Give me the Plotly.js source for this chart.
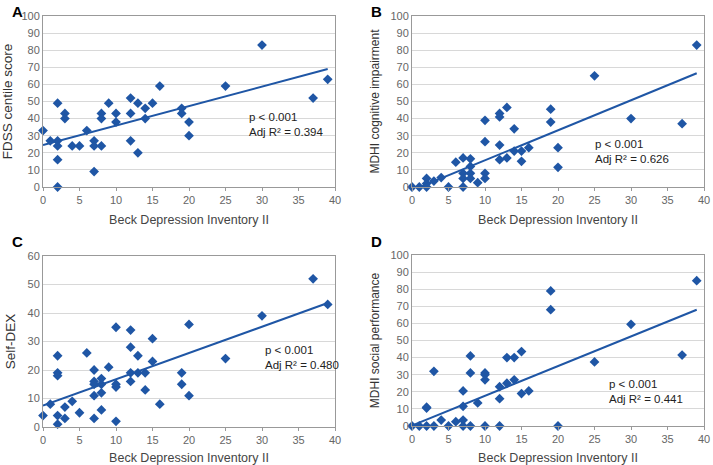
<!DOCTYPE html>
<html><head><meta charset="utf-8">
<script src="https://cdn.plot.ly/plotly-3.0.1.min.js"></script>
<style>html,body{margin:0;padding:0;background:#fff}#chart{width:713px;height:465px}</style>
</head><body><div id="chart"></div>
<script>
// Panel A: FDSS centile score
const aX = [0,1,2,2,2,2,2,3,3,4,5,6,7,7,7,8,8,8,9,10,10,12,12,12,13,13,14,14,15,16,19,19,20,20,25,30,37,39];
const aY = [33,27,49,27,24,16,0,43,40,24,24,33,27,24,9,43,40,24,49,43,38,52,43,27,49,20,46,40,49,59,46,43,38,30,59,83,52,63];
// Panel B: MDHI cognitive impairment
const bX = [0,1,2,2,2,3,4,5,6,7,7,7,7,8,8,8,8,9,10,10,10,10,12,12,12,12,13,13,14,14,15,15,16,19,19,20,20,25,30,37,39];
const bY = [0,0,5,2,0,3.5,5.5,0,14.5,17,8,5,0,16.5,12,8,5,2.5,39,26.5,8,5,43,41,24.5,16,46.5,17,34,21,21,15,23,45.5,38,23,11.5,65,40,37,83];
// Panel C: Self-DEX
const cX = [0,1,2,2,2,2,2,3,3,4,5,6,7,7,7,7,7,8,8,8,8,9,10,10,10,10,12,12,12,12,13,13,14,14,15,15,16,19,19,20,20,25,30,37,39];
const cY = [4,8,25,19,18,4,1,7,3,9,5,26,20,16,15,11,3,17,15,12,6,21,35,15,14,2,34,28,19,16,25,19,19,13,31,23,8,19,15,36,11,24,39,52,43];
// Panel D: MDHI social performance
const dX = [0,1,2,2,2,3,3,4,5,6,7,7,7,7,8,8,8,9,10,10,10,10,12,12,12,13,13,14,14,15,15,16,19,19,20,25,30,37,39];
const dY = [0,0,11,10.5,0,32,0,3.5,0,2.5,20.5,11.5,3.5,0,41,31,0,13.5,31,30,27,0,23,16,0,40,25,40,27,43.5,19,20.5,79,68,0,37.5,59.5,41.5,85];
// Trend lines (endpoints of fitted lines)
const trendX = [0, 39];
const aTrend = [24.5, 69];
const bTrend = [-1.9, 66.5];
const cTrend = [7.5, 43.5];
const dTrend = [0.3, 68];
const statsText = ["p < 0.001<br>Adj R² = 0.394","p < 0.001<br>Adj R² = 0.626","p < 0.001<br>Adj R² = 0.480","p < 0.001<br>Adj R² = 0.441"];
const yTitles = ["FDSS centile score","MDHI cognitive impairment","Self-DEX","MDHI social performance"];
const panelLetters = ["A","B","C","D"];
const xTitle = "Beck Depression Inventory II";

const blue = "#1f56a5";
const sets = [[aX,aY,aTrend],[bX,bY,bTrend],[cX,cY,cTrend],[dX,dY,dTrend]];
const data = [];
sets.forEach((s,i)=>{
  const sfx = i===0 ? "" : String(i+1);
  data.push({x:s[0], y:s[1], type:"scatter", mode:"markers", xaxis:"x"+sfx, yaxis:"y"+sfx,
    marker:{symbol:"diamond", size:7.5, color:blue}, cliponaxis:false, hoverinfo:"none"});
  data.push({x:trendX, y:s[2], type:"scatter", mode:"lines", xaxis:"x"+sfx, yaxis:"y"+sfx,
    line:{color:blue, width:2}, hoverinfo:"none"});
});

const font = "Liberation Sans, Arial, sans-serif";
const xd = [[43/713, 335/713],[412/713, 704/713],[43/713, 335/713],[412/713, 704/713]];
const yd = [[1-187/465, 1-16/465],[1-187/465, 1-16/465],[1-427/465, 1-256/465],[1-426/465, 1-255/465]];
const yr = [[0,100],[0,100],[0,60],[0,100]];
const yTitleSize = [13.5, 12, 13.5, 12];
const annX = [28, 24.8, 30.1, 26.7];
const annY = [36.5, 20.5, 24.4, 19.9];
const layout = {width:713, height:465, margin:{l:0,r:0,t:0,b:0}, showlegend:false,
  paper_bgcolor:"#fff", plot_bgcolor:"#fff", font:{family:font, color:"#555"}, annotations:[]};
for(let i=0;i<4;i++){
  const sfx = i===0 ? "" : String(i+1);
  layout["xaxis"+sfx] = {domain:xd[i], range:[0,40], anchor:"y"+sfx, dtick:5, tick0:0,
    showgrid:false, zeroline:false, showline:true, linecolor:"#999", linewidth:1, mirror:true,
    ticks:"outside", ticklen:3, tickcolor:"#999", tickfont:{size:11, color:"#666"},
    title:{text:xTitle, font:{size:12.5, color:"#444"}, standoff:10}};
  layout["yaxis"+sfx] = {domain:yd[i], range:yr[i], anchor:"x"+sfx, dtick:10,
    showgrid:true, gridcolor:"#d8d8d8", gridwidth:1, zeroline:false, showline:true, linecolor:"#999",
    linewidth:1, mirror:true, ticks:"", tickfont:{size:11, color:"#666"},
    title:{text:yTitles[i], font:{size:yTitleSize[i], color:"#333"}, standoff:8}};
  layout.annotations.push({xref:"x"+sfx, yref:"y"+sfx, x:annX[i], y:annY[i], text:statsText[i],
    showarrow:false, xanchor:"left", yanchor:"middle", align:"left", font:{size:11.5, color:"#222", family:font}});
  const lx = (i%2===0) ? 10/713 : 369/713;
  const ly = (i<2) ? 1-12/465 : 1-242/465;
  layout.annotations.push({xref:"paper", yref:"paper", x:lx, y:ly, text:"<b>"+panelLetters[i]+"</b>",
    showarrow:false, xanchor:"left", yanchor:"middle", font:{size:15, color:"#000", family:font}});
}
Plotly.newPlot("chart", data, layout, {staticPlot:true});
</script></body></html>
